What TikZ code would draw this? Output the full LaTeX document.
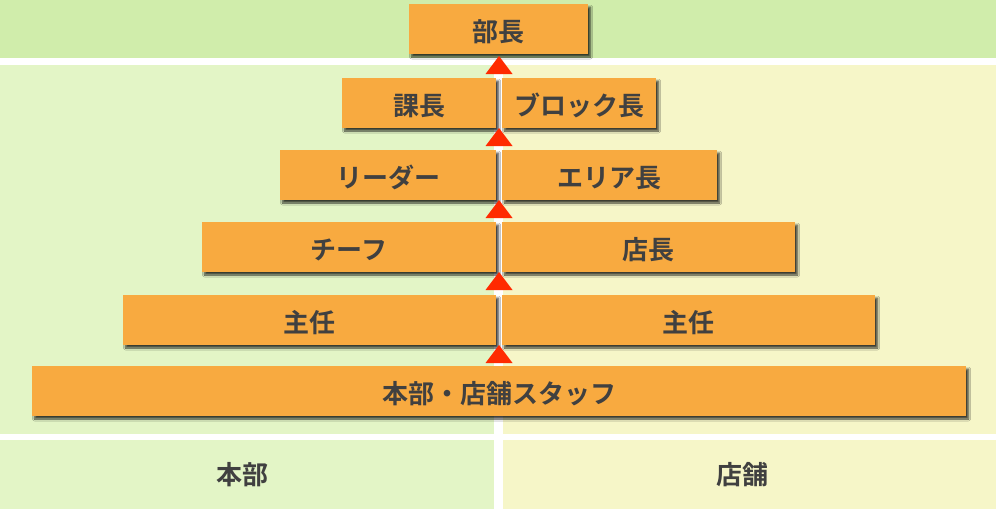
\documentclass[tikz,border=0pt]{standalone}
\usepackage{fontspec}
\newfontfamily\jp{Noto Sans CJK JP}[BoldFont={Noto Sans CJK JP Bold}]
\usetikzlibrary{shadows.blur}
\definecolor{topgreen}{RGB}{208,237,171}
\definecolor{leftgreen}{RGB}{227,245,198}
\definecolor{rightyellow}{RGB}{246,246,200}
\definecolor{boxorange}{RGB}{248,170,64}
\definecolor{textgray}{RGB}{64,64,64}
\definecolor{trired}{RGB}{255,42,0}
\begin{document}
\begin{tikzpicture}[x=1pt,y=-1pt,
  rolebox/.style={fill=boxorange, draw=none, inner sep=0pt, minimum height=50pt,
    text height=25pt, text depth=0pt,
    text=textgray, font=\jp\bfseries\fontsize{26}{26}\selectfont,
    blur shadow={shadow xshift=2.5pt, shadow yshift=-3pt, shadow blur radius=2pt,
      shadow blur steps=6, shadow opacity=75}},
  label/.style={inner sep=0pt, text=textgray, font=\jp\bfseries\fontsize{26}{26}\selectfont},
  uptri/.style={fill=trired, draw=none}]
\useasboundingbox (0,0) rectangle (996,509);
% backgrounds
\fill[white] (0,0) rectangle (996,509);
\fill[topgreen] (0,0) rectangle (996,58);
\fill[leftgreen] (0,65) rectangle (494,434);
\fill[rightyellow] (503,65) rectangle (996,434);
\fill[leftgreen] (0,440) rectangle (494,509);
\fill[rightyellow] (503,440) rectangle (996,509);
% boxes
\node[rolebox, minimum width=179pt] (bucho) at (498.5,29) {部長};
\node[rolebox, minimum width=154pt] (kacho) at (419,103) {課長};
\node[rolebox, minimum width=154pt] (block) at (579,103) {ブロック長};
\node[rolebox, minimum width=216pt] (leader) at (388,175) {リーダー};
\node[rolebox, minimum width=215pt] (area) at (609.5,175) {エリア長};
\node[rolebox, minimum width=294pt] (chief) at (349,247) {チーフ};
\node[rolebox, minimum width=293pt] (tencho) at (648.5,247) {店長};
\node[rolebox, minimum width=373pt] (shuninL) at (309.5,320) {主任};
\node[rolebox, minimum width=373pt] (shuninR) at (688.5,320) {主任};
\node[rolebox, minimum width=934pt] (staff) at (499,391) {本部・店舗スタッフ};
% bottom labels
\node[label] (honbu) at (242,475) {本部};
\node[label] (tenpo) at (742,475) {店舗};
% triangles
\foreach \a in {56,128,200,272,345}{
  \fill[uptri] (499,\a) -- (512.5,\a+18) -- (485.5,\a+18) -- cycle;
}
\end{tikzpicture}
\end{document}
